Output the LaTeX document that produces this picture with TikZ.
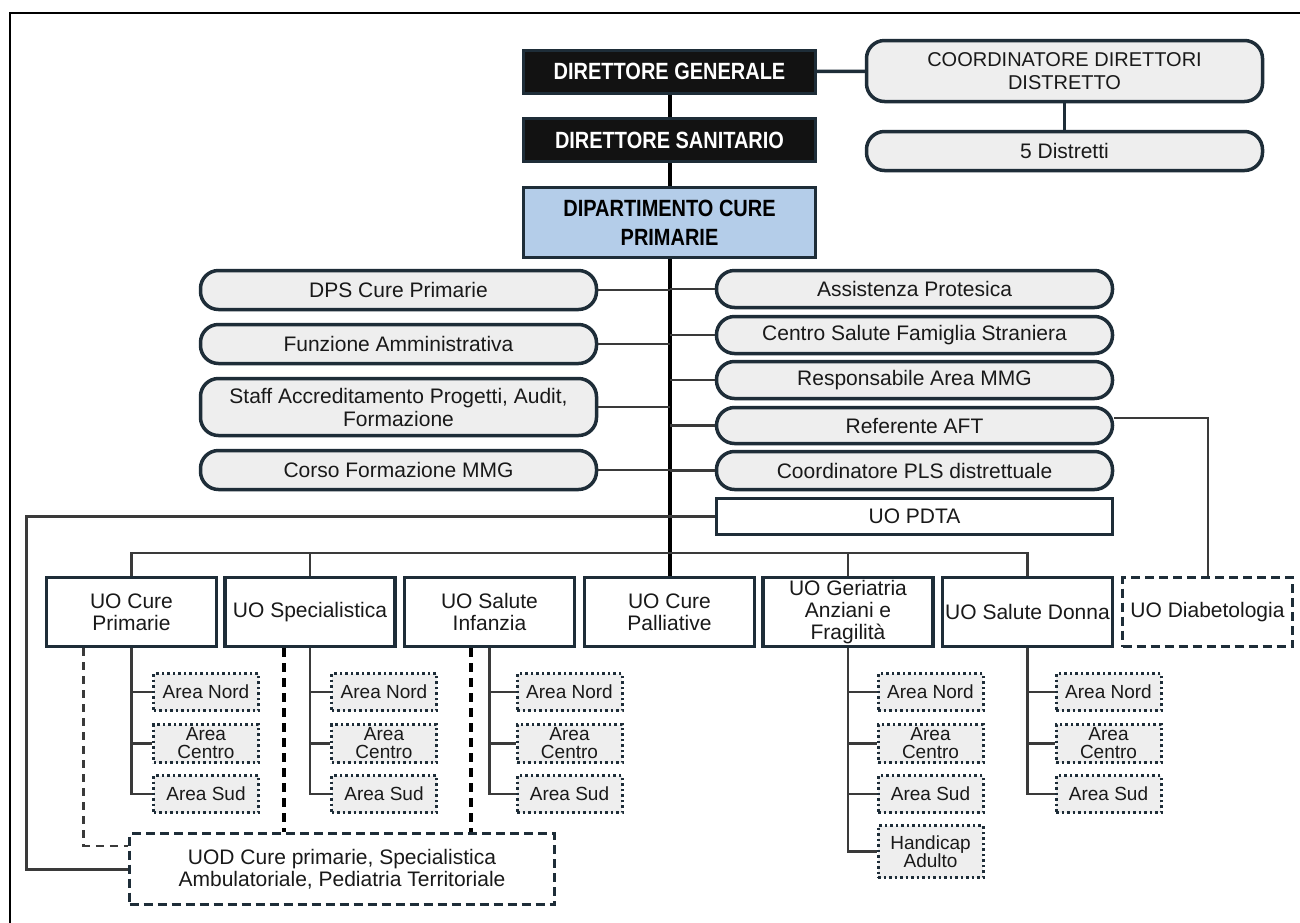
\documentclass[tikz,border=0pt]{standalone}
\usepackage{fontspec}
\setmainfont{Liberation Sans}
\newfontfamily\headfont[FakeStretch=0.85]{Liberation Sans}

\definecolor{edge}{HTML}{1E2D38}
\definecolor{pillfill}{HTML}{EEEEEE}
\definecolor{dipblue}{HTML}{B4CDE9}
\definecolor{wire}{HTML}{3A3A3A}

\tikzset{
    headbox/.style={draw=edge, fill=black!93, text=white, line width=3pt,
        minimum width=292pt, inner sep=0pt, align=center,
        font=\headfont\bfseries\fontsize{23.5}{29}\selectfont},
    pill/.style={draw=edge, fill=pillfill, text=black!90, line width=3.5pt,
        rounded corners=18pt, minimum width=396pt, inner sep=0pt, align=center,
        font=\fontsize{21}{23}\selectfont},
    uobox/.style={draw=edge, fill=white, text=black!90, line width=3.5pt,
        minimum width=170pt, minimum height=69pt, inner sep=0pt, align=center,
        font=\fontsize{21}{22}\selectfont},
    areabox/.style={draw=edge, fill=pillfill, text=black!90, line width=3pt,
        dash pattern=on 2.5pt off 3pt, minimum width=105pt, inner sep=0pt,
        align=center, font=\fontsize{19}{18}\selectfont},
    wire/.style={draw=wire, line width=2.5pt},
    trunk/.style={draw=black, line width=4pt},
    thindash/.style={draw=wire, line width=2.5pt, dash pattern=on 8pt off 6pt},
    thickdash/.style={draw=black, line width=4pt, dash pattern=on 9pt off 6pt},
}

\begin{document}
\begin{tikzpicture}[x=1pt, y=-1pt]
    \useasboundingbox (0,0) rectangle (1300,922);
    \fill[white] (0,0) rectangle (1300,922);
    \clip (0,0) rectangle (1300,922);

    \def\trunkx{669.5};
    \def\lx{398.5};
    \def\rx{914.5};
    \def\uoy{612};
    \def\busy{553};

    \def\nordy{692};
    \def\centroy{743.5};
    \def\sudy{794};
    \def\handy{851.5};

% frame
    \draw[line width=1.2pt] (10,13) rectangle (1320,940);

% top
    \node[headbox, minimum height=43pt] (dg) at (\trunkx,71.5) {DIRETTORE GENERALE};
    \node[headbox, minimum height=43pt] (ds) at (\trunkx,140) {DIRETTORE SANITARIO};
    \node[headbox, fill=dipblue, text=black, minimum height=70pt] (dip) at (\trunkx,222.5) {DIPARTIMENTO CURE\\PRIMARIE};

    \node[pill, minimum height=61pt, font=\fontsize{20}{23}\selectfont] (coord) at (1064.5,71) {COORDINATORE DIRETTORI\\DISTRETTO};
    \node[pill, minimum height=39pt] (distr) at (1064.5,151) {5 Distretti};

% staff, left
    \node[pill, minimum height=39pt] (dps) at (\lx,290) {DPS Cure Primarie};
    \node[pill, minimum height=39pt] (funz) at (\lx,344) {Funzione Amministrativa};
    \node[pill, minimum height=57pt] (staff) at (\lx,407) {Staff Accreditamento Progetti, Audit,\\Formazione};
    \node[pill, minimum height=39pt] (corso) at (\lx,470) {Corso Formazione MMG};

% staff, right
    \node[pill, minimum height=37pt] (assist) at (\rx,289) {Assistenza Protesica};
    \node[pill, minimum height=37pt] (centro) at (\rx,335) {Centro Salute Famiglia Straniera};
    \node[pill, minimum height=37pt] (resp) at (\rx,380) {Responsabile Area MMG};
    \node[pill, minimum height=36pt] (refer) at (\rx,425.5) {Referente AFT};
    \node[pill, minimum height=38pt] (pls) at (\rx,470.5) {Coordinatore PLS distrettuale};
    \node[pill, fill=white, rounded corners=0pt, minimum height=36pt] (pdta) at (\rx,516.5) {UO PDTA};

% UO row
    \node[uobox] (uocp) at (131.5,\uoy) {UO Cure\\Primarie};
    \node[uobox] (uospec) at (310,\uoy) {UO Specialistica};
    \node[uobox] (uoinf) at (489.5,\uoy) {UO Salute\\Infanzia};
    \node[uobox] (uopall) at (\trunkx,\uoy) {UO Cure\\Palliative};
    \node[uobox] (uoger) at (848,\uoy) {UO Geriatria\\Anziani e\\Fragilità};
    \node[uobox] (uodonna) at (1027.5,\uoy) {UO Salute Donna};
    \node[uobox, dash pattern=on 9pt off 5pt] (uodiab) at (1207.5,\uoy) {UO Diabetologia};

% areas
    \node[areabox, minimum height=37pt] (cpnord) at (206,\nordy) {Area Nord};
    \node[areabox, minimum height=38pt] (cpcentro) at (206,\centroy) {Area\\Centro};
    \node[areabox, minimum height=37pt] (cpsud) at (206,\sudy) {Area Sud};

    \node[areabox, minimum height=37pt] (spnord) at (384,\nordy) {Area Nord};
    \node[areabox, minimum height=38pt] (spcentro) at (384,\centroy) {Area\\Centro};
    \node[areabox, minimum height=37pt] (spsud) at (384,\sudy) {Area Sud};

    \node[areabox, minimum height=37pt] (infnord) at (569.5,\nordy) {Area Nord};
    \node[areabox, minimum height=38pt] (infcentro) at (569.5,\centroy) {Area\\Centro};
    \node[areabox, minimum height=37pt] (infsud) at (569.5,\sudy) {Area Sud};

    \node[areabox, minimum height=37pt] (gernord) at (930.5,\nordy) {Area Nord};
    \node[areabox, minimum height=38pt] (gercentro) at (930.5,\centroy) {Area\\Centro};
    \node[areabox, minimum height=37pt] (gersud) at (930.5,\sudy) {Area Sud};
    \node[areabox, minimum height=52pt] (gerhand) at (930.5,\handy) {Handicap\\Adulto};

    \node[areabox, minimum height=37pt] (dnnord) at (1108.5,\nordy) {Area Nord};
    \node[areabox, minimum height=38pt] (dncentro) at (1108.5,\centroy) {Area\\Centro};
    \node[areabox, minimum height=37pt] (dnsud) at (1108.5,\sudy) {Area Sud};

    \node[uobox, dash pattern=on 9pt off 5pt, minimum width=425pt, minimum height=71pt] (uod) at (342,869) {UOD Cure primarie, Specialistica\\Ambulatoriale, Pediatria Territoriale};

% trunk
    \draw[trunk] (dg) -- (ds);
    \draw[trunk] (ds) -- (dip);
    \draw[trunk] (dip) -- (uopall);
    \draw[edge, line width=3.5pt] (dg) -- (coord);
    \draw[edge, line width=3.5pt] (coord) -- (distr);

% staff lines
    \draw[wire] (dps) -- (dps -| dip.south);
    \draw[wire] (funz) -- (funz -| dip.south);
    \draw[wire] (staff) -- (staff -| dip.south);
    \draw[wire] (corso) -- (corso -| dip.south);
    \draw[wire] (assist) -- (assist -| dip.south);
    \draw[wire] (centro) -- (centro -| dip.south);
    \draw[wire] (resp) -- (resp -| dip.south);
    \draw[wire] (refer) -- (refer -| dip.south);
    \draw[wire] (pls) -- (pls -| dip.south);
    \draw[wire] (pdta) -- (pdta -| dip.south);
    \draw[wire, line width=2pt] ([yshift=8pt]refer.east) -| (uodiab.north);

% UOD link
    \coordinate (pdtaturn) at (26,516.5);
    \draw[wire, line width=3pt] (pdta -| dip.south) -- (pdtaturn) |- (uod.west);

% bus
    \coordinate (bus) at (\trunkx,\busy);
    \draw[wire] (uocp.north) |- (bus) -| (uodonna.north);
    \draw[wire] (uospec.north) -- (uospec.north |- bus);
    \draw[wire] (uoger.north) -- (uoger.north |- bus);

% sub-branches
    \draw[wire] (uocp.south) |- (cpsud.west);
    \draw[wire] (cpnord.west) -- (cpnord.west -| uocp.south);
    \draw[wire] (cpcentro.west) -- (cpcentro.west -| uocp.south);

    \draw[wire] (uospec.south) |- (spsud.west);
    \draw[wire] (spnord.west) -- (spnord.west -| uospec.south);
    \draw[wire] (spcentro.west) -- (spcentro.west -| uospec.south);

    \draw[wire] (uoinf.south) |- (infsud.west);
    \draw[wire] (infnord.west) -- (infnord.west -| uoinf.south);
    \draw[wire] (infcentro.west) -- (infcentro.west -| uoinf.south);

    \draw[wire] (uoger.south) |- (gerhand.west);
    \draw[wire] (gernord.west) -- (gernord.west -| uoger.south);
    \draw[wire] (gercentro.west) -- (gercentro.west -| uoger.south);
    \draw[wire] (gersud.west) -- (gersud.west -| uoger.south);

    \draw[wire] (uodonna.south) |- (dnsud.west);
    \draw[wire] (dnnord.west) -- (dnnord.west -| uodonna.south);
    \draw[wire] (dncentro.west) -- (dncentro.west -| uodonna.south);

% dashed links to UOD
    \draw[thindash] ([xshift=-48pt]uocp.south) |- ([yshift=23pt]uod.west);
    \draw[thickdash] ([xshift=-26pt]uospec.south) -- ([xshift=-26pt]uospec.south |- uod.north);
    \draw[thickdash] ([xshift=-18.5pt]uoinf.south) -- ([xshift=-18.5pt]uoinf.south |- uod.north);

\end{tikzpicture}
\end{document}
